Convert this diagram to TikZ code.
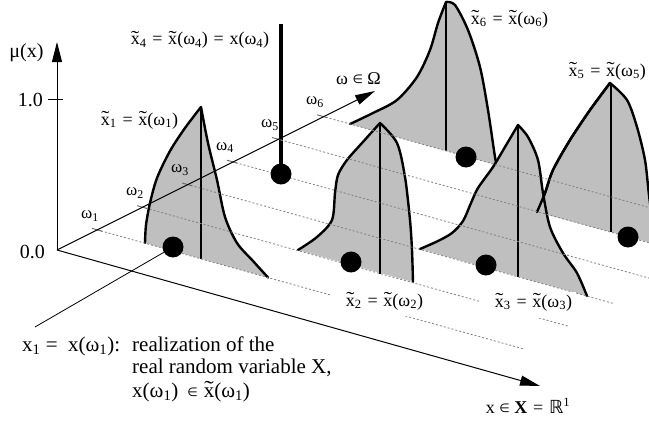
\documentclass[tikz,border=0pt]{standalone}
\usepackage{fontspec}
\usepackage{graphicx}
\setmainfont{Liberation Serif}
\newfontfamily\symfont{DejaVu Sans}
\usetikzlibrary{arrows.meta,calc}

\newcommand\xt{\leavevmode\hbox{\ooalign{x\cr\hidewidth\raisebox{0.08em}{\scalebox{1.35}[1]{\char"02DC}}\hidewidth\cr}}}
\newcommand\sbs[1]{\textsubscript{#1}}
\newcommand\eqs{\hspace{0.32em}=\hspace{0.32em}}
\newcommand\elem{\raisebox{0.6pt}{\symfont\fontsize{12}{12}\selectfont ∈}}
\newcommand\fuzzyset[2]{%
  \fill[fz] plot[smooth] coordinates {#1} -- plot[smooth] coordinates {#2} -- cycle;
  \draw[fzline] plot[smooth] coordinates {#1} -- plot[smooth] coordinates {#2};}

\begin{document}
\begin{tikzpicture}[x=1pt,y=-1pt,
  fz/.style={fill=black!25},
  fzline/.style={line width=2.4pt, line join=round, line cap=round},
  stem/.style={line width=1.2pt},
  dotl/.style={black!50, line width=0.8pt, dash pattern=on 2pt off 2pt},
  tickst/.style={black!60, line width=0.9pt},
  axis/.style={line width=1pt, -{Triangle[length=20pt,width=10pt]}},
  realdot/.style={circle, fill=black, inner sep=0pt, minimum size=21pt},
  lab/.style={font=\fontsize{18}{21}\selectfont, inner sep=0pt},
  big/.style={font=\fontsize{21}{24}\selectfont, inner sep=0pt},
  axlab/.style={font=\fontsize{20}{23}\selectfont, inner sep=0pt},
  wlab/.style={font=\fontsize{17}{20}\selectfont, inner sep=0pt}]
\useasboundingbox (0,0) rectangle (649,423);

% ---- fuzzy sets, back to front
% x6
\fuzzyset{(350,124) (373,113) (397,100) (417,77) (430,50) (438,23) (446,2)}
         {(446,2) (455,5) (468,30) (480,67) (488,110) (495,157) (497,165)}
\coordinate (P6) at (446,2); \coordinate (B6) at (446,151);
\draw[stem] (P6) -- (B6);
% x5
\fuzzyset{(537,212) (545,193) (553,170) (570,140) (590,110) (610,83)}
         {(610,83) (627,100) (637,127) (645,160) (649,195) (655,244)}
\coordinate (P5) at (611,83); \coordinate (B5) at (611,232);
\draw[stem] (P5) -- (B5);
% x4 spike
\coordinate (S4) at (281,24); \coordinate (D4) at (281,174);
\draw[line width=3.5pt] (S4) -- (D4);
% x3
\fuzzyset{(420,249) (438,241) (452,233) (463,221) (471,203) (478,188) (493,167) (505,147) (518,125)}
         {(518,125) (528,137) (538,160) (543,193) (550,227) (563,253) (577,273) (587,296)}
\coordinate (P3) at (518,125); \coordinate (B3) at (518,277);
\draw[stem] (P3) -- (B3);
% left edge of x5 seen through
\draw[fzline] plot[smooth] coordinates {(537,212) (545,193) (553,170) (570,140) (590,110) (610,83)};
% x2
\fuzzyset{(298,250) (317,237) (332,220) (335,193) (338,175) (347,160) (362,143) (380,123)}
         {(380,123) (397,143) (405,177) (410,220) (412,250) (413,282)}
\coordinate (P2) at (380,123); \coordinate (B2) at (380,273.5);
\draw[stem] (P2) -- (B2);
% x1
\fuzzyset{(145,243) (146,225) (150,203) (157,178) (170,151) (185,128) (201,107)}
         {(201,107) (208,143) (217,180) (225,217) (237,243) (253,261) (268,277.5)}
\coordinate (P1) at (201,107); \coordinate (B1) at (201,258.5);
\draw[stem] (P1) -- (B1);

% ---- omega grid lines
\foreach \i in {1,...,6}{
  \pgfmathsetmacro\tkx{97+45*(\i-1)}
  \pgfmathsetmacro\tky{250-0.505*(\tkx-57)}
  \coordinate (T\i) at (\tkx,\tky);
  \coordinate (E\i) at (\tkx+426,\tky+119);
  \draw[dotl] (T\i) -- (E\i);
  \draw[tickst] ($(T\i)+(-5,-1.4)$) -- ($(T\i)+(5,1.4)$);
  \node[wlab] (w\i) at ($(T\i)+(-7,-14)$) {ω\sbs{\i}};
}

% ---- axes
\coordinate (O) at (57,250);
\coordinate (Ytip) at (57,42);
\coordinate (Wtip) at (375,91);
\coordinate (Xtip) at (540,386);
\draw[axis] (O) -- (Ytip);
\draw[axis] (O) -- (Wtip);
\draw[axis] (O) -- (Xtip);
\draw[line width=1pt] (48,99) -- (63,99);

% ---- realizations
\node[realdot] (d1) at (173,247) {};
\node[realdot] (d2) at (351,262) {};
\node[realdot] (d3) at (486,265) {};
\node[realdot] (d4) at (D4) {};
\node[realdot] (d5) at (628,237) {};
\node[realdot] (d6) at (466,157) {};

% ---- annotation
\coordinate (c1) at (35,327);
\draw[line width=0.8pt] (c1) -- (d1);

% ---- label masks
\fill[white] (330,290) rectangle (425,316);
\fill[white] (481,292) rectangle (576,318);

% ---- labels
\node[axlab, anchor=base] (mu) at (26.5,57) {μ(x)};
\node[axlab, anchor=east] (one) at (43,100) {1.0};
\node[axlab, anchor=east] (zero) at (45,252) {0.0};
\node[lab, anchor=base] (lx4) at (200,45) {\xt\sbs4\eqs\xt(ω\sbs4)\eqs x(ω\sbs4)};
\node[lab, anchor=base] (lx1) at (139.5,125) {\xt\sbs1\eqs\xt(ω\sbs1)};
\node[lab, anchor=base] (lx6) at (509.5,24) {\xt\sbs6\eqs\xt(ω\sbs6)};
\node[lab, anchor=base east] (lx5) at (646,76) {\xt\sbs5\eqs\xt(ω\sbs5)};
\node[lab, anchor=base] (lx2) at (384.5,306) {\xt\sbs2\eqs\xt(ω\sbs2)};
\node[lab, anchor=base] (lx3) at (533.5,307) {\xt\sbs3\eqs\xt(ω\sbs3)};
\node[lab, anchor=base] (lom) at (358.5,84) {ω \elem{} Ω};
\node[lab, anchor=base] (lX) at (528,413) {x \elem{} \textbf{X}\eqs{\symfont ℝ}\textsuperscript{1}};
\node[big, anchor=base west] (t1) at (22,351) {x\sbs1 =\ \ x(ω\sbs1):};
\node[big, anchor=base west] (t1r) at (132,351) {realization of the};
\node[big, anchor=base west] (t2) at (132,373) {real random variable X,};
\node[big, anchor=base west] (t3) at (132,397) {x(ω\sbs1)\hspace{9pt}\elem\hspace{6pt}\xt(ω\sbs1)};
\end{tikzpicture}
\end{document}
